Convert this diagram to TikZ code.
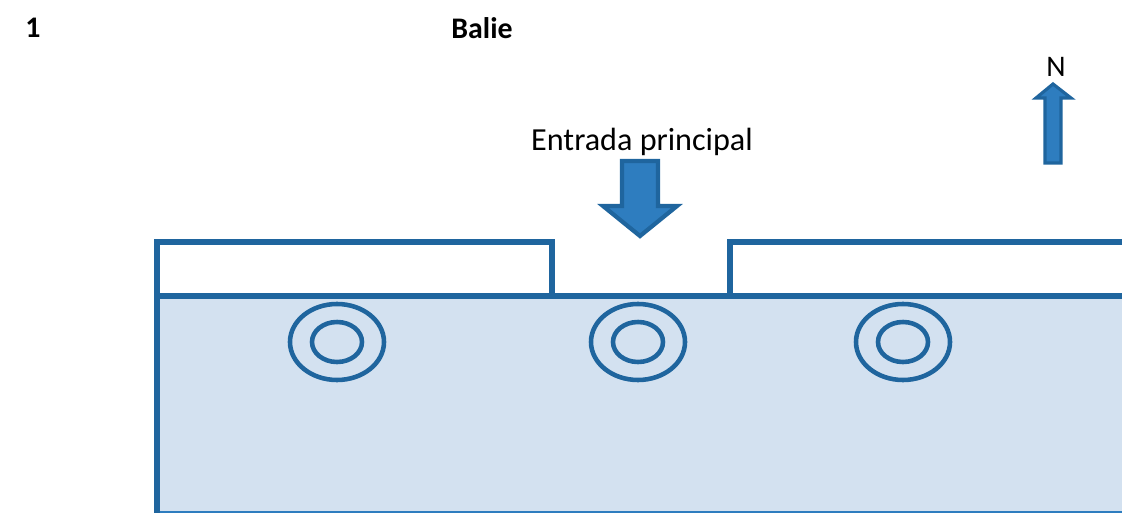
\documentclass[tikz,border=0pt]{standalone}
\usepackage{fontspec}
\setmainfont{Carlito}
\definecolor{wallblue}{HTML}{1F659E}
\definecolor{floorblue}{HTML}{D3E1F0}
\definecolor{arrowblue}{HTML}{2E7DBF}
\tikzset{
  wall/.style={draw=wallblue,line width=3pt},
  ring/.style={draw=wallblue,line width=2.6pt},
  bigarrow/.style={draw=wallblue,fill=arrowblue,line width=2.4pt,line join=miter},
  label/.style={inner sep=0pt,text=black}
}

\begin{document}
\begin{tikzpicture}[x=0.02cm,y=-0.02cm]
\useasboundingbox (0,0) rectangle (1122,513);

% floor of the hall:
\fill[floorblue] (157,296) rectangle (1122,513);
\draw[draw=arrowblue,line width=0.8pt] (157,512) -- (1122,512);

% walls:
\draw[wall] (157,513) -- (157,242) -- (552,242) -- (552,296);
\draw[wall] (730,296) -- (730,242) -- (1122,242);
\draw[wall,line width=3.6pt] (157,296) -- (1122,296);

% rings:
\draw[ring] (337,342) ellipse (47 and 38);
\draw[ring] (337,342) ellipse (25 and 20);
\draw[ring] (638,342) ellipse (47 and 38);
\draw[ring] (638,342) ellipse (25 and 20);
\draw[ring] (903,342) ellipse (47 and 38);
\draw[ring] (903,342) ellipse (25 and 20);

% arrows:
\draw[bigarrow] (622,161) -- (658,161) -- (658,206) -- (677,206) -- (640,236) -- (603,206) -- (622,206) -- cycle;
\draw[bigarrow,line width=1.8pt] (1045,163) -- (1061,163) -- (1061,98) -- (1071,98) -- (1053,84) -- (1036,98) -- (1045,98) -- cycle;

% texts:
\node[label,font=\fontsize{17}{20}\selectfont\bfseries] (number) at (33,28) {1};
\node[label,font=\fontsize{17}{20}\selectfont\bfseries] (balie) at (482,28) {Balie};
\node[label,font=\fontsize{18.3}{22}\selectfont] (entrada) at (642,142) {Entrada principal};
\node[label,font=\fontsize{17}{20}\selectfont] (north) at (1056,67) {N};

\end{tikzpicture}
\end{document}
